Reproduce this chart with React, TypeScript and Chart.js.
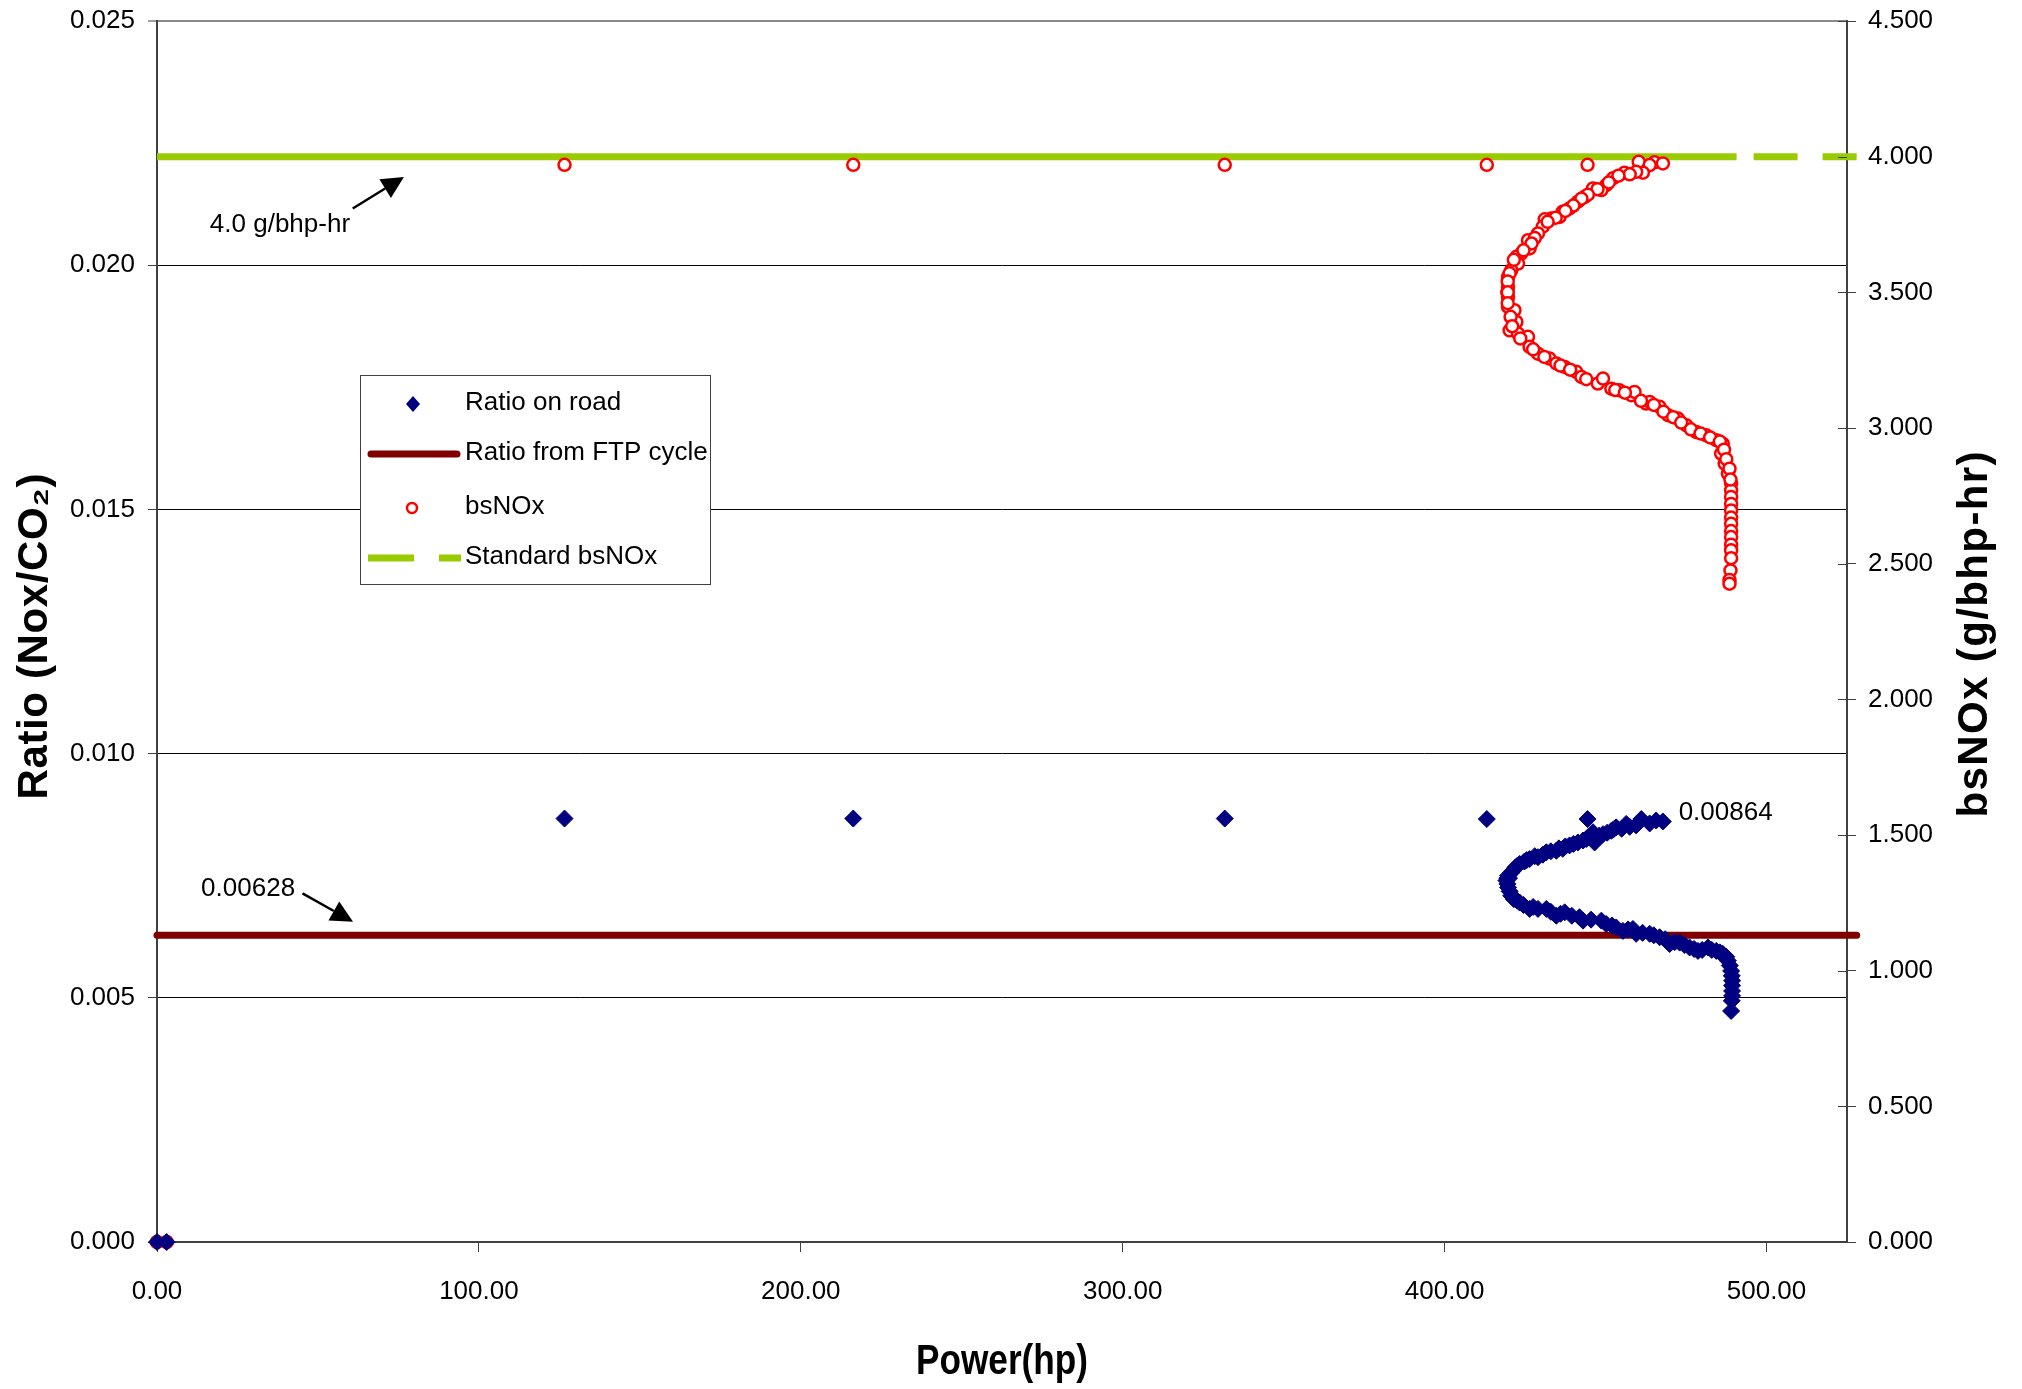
import React, { useEffect, useRef } from "react";
import { Chart, registerables } from "chart.js";

Chart.register(...registerables);

// ---------- data ----------
const xTicks = [0, 100, 200, 300, 400, 500];
const ratioTicks = [0, 0.005, 0.01, 0.015, 0.02, 0.025];
const bsTicks = [0, 0.5, 1, 1.5, 2, 2.5, 3, 3.5, 4, 4.5];

// Ratio on road (NOx/CO2) vs power
const roadPower = [
  0, 3, 126.6, 216.3, 331.7, 413.1, 444.4,
  467.8, 465.7, 461.1, 463.7, 459.5, 456.4, 453.3, 451.8, 449.2, 446.1, 446.6, 444.0,
  441.4, 438.8, 436.7, 434.7, 431.6, 429.0, 426.4, 424.8, 423.3, 422.0, 421.2, 420.0,
  419.7, 419.2, 419.5, 419.7, 420.2, 420.7, 423.3, 426.4, 429.0, 431.6, 434.7, 437.3,
  441.9, 443.0, 448.7, 450.2, 453.3, 455.4, 458.5, 459.5, 463.7, 466.8, 469.9, 473.0,
  476.1, 478.7, 481.8, 484.4, 486.4, 488.0, 488.6, 489.0, 489.2, 489.3, 489.3, 489.3,
  489.3, 489.2, 489.0,
  457.5, 455.0, 452.5, 450.5, 448.0, 445.0, 443.0, 440.0, 437.5, 435.5, 433.0, 430.5,
  428.0, 425.5, 422.5, 420.5, 419.5,
  421.5, 422.5, 424.5, 427.5, 433.0, 436.0, 439.5, 445.5, 452.0, 457.0, 461.5, 465.0,
  468.5, 471.5, 474.5, 477.5, 480.0, 483.0, 485.5, 487.5,
];
const roadRatio = [
  0, 0, 0.00867, 0.00867, 0.00867, 0.00866, 0.00866,
  0.00861, 0.00863, 0.00866, 0.00857, 0.00853, 0.00856, 0.00849, 0.00842, 0.00835, 0.00839, 0.00818, 0.00825,
  0.00818, 0.00812, 0.00805, 0.00801, 0.00798, 0.00788, 0.00784, 0.00779, 0.00774, 0.00767, 0.0076, 0.00745,
  0.0075, 0.0074, 0.00733, 0.00726, 0.00718, 0.00709, 0.00695, 0.00682, 0.00682, 0.00682, 0.00668, 0.00675,
  0.00665, 0.00658, 0.00658, 0.00651, 0.00644, 0.00637, 0.00641, 0.00631, 0.00631, 0.00624, 0.0061, 0.00613,
  0.00603, 0.00596, 0.00603, 0.00596, 0.0059, 0.00576, 0.00566, 0.00555, 0.00545, 0.00535, 0.00525, 0.00514,
  0.00504, 0.00494, 0.00473,
  0.0085, 0.00846, 0.00845, 0.00838, 0.00832, 0.00828, 0.00822, 0.00815, 0.0081, 0.00806, 0.008, 0.00793,
  0.0079, 0.00782, 0.0077, 0.00755, 0.00745,
  0.00702, 0.00699, 0.0069, 0.00686, 0.00676, 0.00672, 0.00668, 0.0066, 0.00648, 0.0064, 0.00633, 0.00628,
  0.0062, 0.00614, 0.00608, 0.006, 0.00598, 0.00598, 0.00593, 0.00584,
];

// bsNOx (g/bhp-hr) vs power
const bsPower = [
  0, 3, 126.6, 216.3, 331.7, 413.1, 444.4,
  460.3, 465.2, 467.8, 463.7, 461.6, 459.5, 455.9, 452.3, 450.2, 448.7, 446.1, 443.5,
  441.4, 438.8, 436.7, 435.7, 433.1, 431.1, 430.5, 429.0, 425.9, 426.4, 423.8, 422.3,
  422.8, 420.7, 419.7, 419.7, 419.5, 419.7, 419.7, 421.7, 422.3, 420.2, 422.8, 425.9,
  426.4, 429.0, 432.6, 434.7, 437.3, 440.9, 442.5, 447.6, 449.2, 451.8, 454.3, 458.0,
  459.0, 462.6, 463.7, 466.8, 469.4, 472.5, 475.1, 478.2, 481.3, 484.4, 486.4, 485.9,
  487.0, 488.0, 489.0, 489.0, 489.0, 489.0, 489.0, 489.0, 489.0, 489.0, 489.0, 489.0,
  489.0, 489.0, 488.8, 488.5, 488.5,
  457.5, 454.0, 451.0, 447.5, 444.5, 442.5, 440.0, 437.5, 434.5, 432.0, 428.0, 427.0,
  424.5, 421.5, 420.2, 419.6, 419.6, 419.6,
  420.5, 421.0, 423.5, 427.5, 431.0, 436.0, 439.0, 444.0, 453.0, 456.0, 461.0, 465.0,
  468.0, 471.0, 473.5, 476.5, 479.5, 482.5, 485.5, 486.8, 487.5, 488.5, 488.8,
];
const bsValue = [
  0, 0, 3.97, 3.97, 3.97, 3.97, 3.97,
  3.981, 3.979, 3.975, 3.969, 3.941, 3.944, 3.941, 3.92, 3.895, 3.877, 3.883, 3.852,
  3.834, 3.809, 3.797, 3.778, 3.772, 3.769, 3.742, 3.717, 3.692, 3.662, 3.643, 3.631,
  3.606, 3.582, 3.557, 3.52, 3.5, 3.483, 3.446, 3.434, 3.391, 3.36, 3.348, 3.336,
  3.299, 3.274, 3.256, 3.238, 3.225, 3.207, 3.188, 3.164, 3.182, 3.145, 3.139, 3.121,
  3.133, 3.09, 3.096, 3.078, 3.047, 3.035, 3.01, 2.985, 2.973, 2.955, 2.942, 2.906,
  2.869, 2.832, 2.795, 2.77, 2.746, 2.72, 2.696, 2.67, 2.647, 2.62, 2.598, 2.57,
  2.549, 2.52, 2.475, 2.44, 2.426,
  3.935, 3.93, 3.905, 3.88, 3.86, 3.845, 3.82, 3.8, 3.775, 3.76, 3.7, 3.68,
  3.655, 3.62, 3.57, 3.54, 3.5, 3.46,
  3.41, 3.375, 3.33, 3.29, 3.262, 3.23, 3.215, 3.18, 3.14, 3.13, 3.1, 3.085,
  3.06, 3.04, 3.02, 2.995, 2.98, 2.965, 2.95, 2.92, 2.885, 2.85, 2.81,
];

// Reference lines
const ftpPower = [0, 528];
const ftpRatio = [0.00628, 0.00628];
const stdPower = [0, 490.7, 528];
const stdBs = [4.0, 4.0, 4.0];

// Annotations (data coordinates)
const note40 = { text: "4.0 g/bhp-hr", x: 38.2, y: 3.75, tailX: 60.8, tailY: 3.809, tipX: 76.7, tipY: 3.925 };
const note628 = { text: "0.00628", x: 28.3, y: 0.007234, tailX: 45.2, tailY: 0.007137, tipX: 60.9, tipY: 0.006557 };
const note864 = { text: "0.00864", x: 472.7, y: 0.008791 };

const seriesNames = ["Ratio on road", "Ratio from FTP cycle", "bsNOx", "Standard bsNOx"];

const NAVY = "#000080";
const MAROON = "#800000";
const RED = "#FF0000";
const GREEN = "#99CC00";
const AXIS = "#404040";
const FAMILY = "'Liberation Sans', Arial, sans-serif";

function hasFont(name: string): boolean {
  const c = document.createElement("canvas").getContext("2d");
  if (!c) return false;
  const s = "Power(hp) bsNOx (g/bhp-hr) 0123";
  c.font = "40px monospace";
  const a = c.measureText(s).width;
  c.font = `40px "${name}", monospace`;
  const b = c.measureText(s).width;
  return Math.abs(a - b) > 0.5;
}

function drawArrow(ctx: CanvasRenderingContext2D, x1: number, y1: number, x2: number, y2: number) {
  const ang = Math.atan2(y2 - y1, x2 - x1);
  const headLen = 22;
  const halfW = 11;
  const bx = x2 - Math.cos(ang) * headLen;
  const by = y2 - Math.sin(ang) * headLen;
  ctx.save();
  ctx.strokeStyle = "#000";
  ctx.fillStyle = "#000";
  ctx.lineWidth = 2.5;
  ctx.beginPath();
  ctx.moveTo(x1, y1);
  ctx.lineTo(bx, by);
  ctx.stroke();
  ctx.beginPath();
  ctx.moveTo(x2, y2);
  ctx.lineTo(bx - Math.sin(ang) * halfW, by + Math.cos(ang) * halfW);
  ctx.lineTo(bx + Math.sin(ang) * halfW, by - Math.cos(ang) * halfW);
  ctx.closePath();
  ctx.fill();
  ctx.restore();
}

function drawTitle(
  ctx: CanvasRenderingContext2D,
  text: string,
  cx: number,
  cy: number,
  font: string,
  target: number,
  rotate: boolean
) {
  ctx.save();
  ctx.font = font;
  ctx.fillStyle = "#000";
  ctx.textAlign = "left";
  ctx.textBaseline = "middle";
  const w = ctx.measureText(text).width;
  ctx.translate(cx, cy);
  if (rotate) ctx.rotate(-Math.PI / 2);
  if (w > target) {
    ctx.scale(target / w, 1);
    ctx.fillText(text, -w / 2, 0);
  } else {
    const chars = Array.from(text);
    const extra = (target - w) / Math.max(1, chars.length - 1);
    let x = -target / 2;
    for (const ch of chars) {
      ctx.fillText(ch, x, 0);
      x += ctx.measureText(ch).width + extra;
    }
  }
  ctx.restore();
}

export default function App() {
  const ref = useRef<HTMLCanvasElement>(null);

  useEffect(() => {
    const canvas = ref.current;
    if (!canvas) return;
    const narrow = hasFont("Liberation Sans Narrow");
    const titleFont = narrow
      ? `bold 42px "Liberation Sans Narrow", "Liberation Sans", Arial, sans-serif`
      : `bold 42px "Liberation Sans", Arial, sans-serif`;

    const overlay = {
      id: "overlay",
      afterDatasetsDraw(chart: any) {
        const ctx: CanvasRenderingContext2D = chart.ctx;
        const xs = chart.scales.x;
        const yl = chart.scales.y;
        const yr = chart.scales.y1;
        const area = chart.chartArea;

        // inner half of right-axis tick marks
        ctx.save();
        ctx.strokeStyle = AXIS;
        ctx.lineWidth = 1;
        for (const v of bsTicks) {
          const py = Math.round(yr.getPixelForValue(v)) + 0.5;
          ctx.beginPath();
          ctx.moveTo(area.right - 9, py);
          ctx.lineTo(area.right, py);
          ctx.stroke();
        }
        ctx.restore();

        // annotations
        ctx.save();
        ctx.font = `26px ${FAMILY}`;
        ctx.fillStyle = "#000";
        ctx.textBaseline = "middle";
        ctx.textAlign = "center";
        ctx.fillText(note40.text, xs.getPixelForValue(note40.x), yr.getPixelForValue(note40.y));
        ctx.fillText(note628.text, xs.getPixelForValue(note628.x), yl.getPixelForValue(note628.y));
        ctx.textAlign = "left";
        ctx.fillText(note864.text, xs.getPixelForValue(note864.x), yl.getPixelForValue(note864.y));
        ctx.restore();
        drawArrow(
          ctx,
          xs.getPixelForValue(note40.tailX),
          yr.getPixelForValue(note40.tailY),
          xs.getPixelForValue(note40.tipX),
          yr.getPixelForValue(note40.tipY)
        );
        drawArrow(
          ctx,
          xs.getPixelForValue(note628.tailX),
          yl.getPixelForValue(note628.tailY),
          xs.getPixelForValue(note628.tipX),
          yl.getPixelForValue(note628.tipY)
        );

        // legend
        const L = 360, T = 375, W = 350, H = 209;
        ctx.save();
        ctx.fillStyle = "#fff";
        ctx.fillRect(L, T, W, H);
        ctx.strokeStyle = AXIS;
        ctx.lineWidth = 1;
        ctx.strokeRect(L + 0.5, T + 0.5, W, H);
        const rows = [404, 454, 508, 558];
        // diamond
        ctx.fillStyle = NAVY;
        ctx.beginPath();
        ctx.moveTo(413, rows[0] - 8);
        ctx.lineTo(420, rows[0]);
        ctx.lineTo(413, rows[0] + 8);
        ctx.lineTo(406, rows[0]);
        ctx.closePath();
        ctx.fill();
        // ftp line
        ctx.strokeStyle = MAROON;
        ctx.lineWidth = 7;
        ctx.lineCap = "round";
        ctx.beginPath();
        ctx.moveTo(371, rows[1]);
        ctx.lineTo(457, rows[1]);
        ctx.stroke();
        // circle
        ctx.lineCap = "butt";
        ctx.strokeStyle = RED;
        ctx.fillStyle = "#fff";
        ctx.lineWidth = 2.5;
        ctx.beginPath();
        ctx.arc(412, rows[2], 5, 0, Math.PI * 2);
        ctx.fill();
        ctx.stroke();
        // dashed green
        ctx.fillStyle = GREEN;
        ctx.fillRect(368, rows[3] - 3.5, 46, 7);
        ctx.fillRect(439, rows[3] - 3.5, 22, 7);
        // texts
        ctx.fillStyle = "#000";
        ctx.font = `26px ${FAMILY}`;
        ctx.textAlign = "left";
        ctx.textBaseline = "middle";
        seriesNames.forEach((n, i) => ctx.fillText(n, 465, rows[i] - 1));
        ctx.restore();
      },
      afterDraw(chart: any) {
        const ctx: CanvasRenderingContext2D = chart.ctx;
        const area = chart.chartArea;
        const cy = (area.top + area.bottom) / 2;
        drawTitle(ctx, "Ratio (Nox/CO\u2082)", 35, cy + 5, titleFont, 326, true);
        drawTitle(ctx, "bsNOx (g/bhp-hr)", 1975, cy + 3, titleFont, 366, true);
        drawTitle(ctx, "Power(hp)", (area.left + area.right) / 2, 1362, titleFont, 172, false);
      },
    };

    const tickFont = { family: FAMILY, size: 26 };

    const chart = new Chart(canvas, {
      type: "scatter",
      data: {
        datasets: [
          {
            type: "scatter",
            label: seriesNames[0],
            data: roadPower.map((x, i) => ({ x, y: roadRatio[i] })),
            yAxisID: "y",
            pointStyle: "rectRot",
            pointRadius: 8.5,
            backgroundColor: NAVY,
            borderColor: NAVY,
            borderWidth: 1,
            order: 0,
            clip: false,
          },
          {
            type: "line",
            label: seriesNames[1],
            data: ftpPower.map((x, i) => ({ x, y: ftpRatio[i] })),
            yAxisID: "y",
            borderColor: MAROON,
            borderWidth: 7,
            borderCapStyle: "round",
            pointRadius: 0,
            fill: false,
            order: 2,
            clip: false,
          },
          {
            type: "scatter",
            label: seriesNames[2],
            data: bsPower.map((x, i) => ({ x, y: bsValue[i] })),
            yAxisID: "y1",
            pointStyle: "circle",
            pointRadius: 6,
            borderWidth: 2.5,
            borderColor: RED,
            backgroundColor: "#FFFFFF",
            order: 0,
            clip: false,
          },
          {
            type: "line",
            label: seriesNames[3],
            data: stdPower.map((x, i) => ({ x, y: stdBs[i] })),
            yAxisID: "y1",
            borderColor: GREEN,
            borderWidth: 7,
            borderCapStyle: "butt",
            pointRadius: 0,
            fill: false,
            order: 2,
            clip: false,
            segment: {
              borderDash: (c: any) => (c.p1DataIndex === stdPower.length - 1 ? [44, 25] : undefined),
              borderDashOffset: (c: any) => (c.p1DataIndex === stdPower.length - 1 ? 52 : undefined),
            },
          } as any,
        ],
      },
      options: {
        responsive: false,
        devicePixelRatio: 1,
        animation: false,
        events: [],
        layout: { autoPadding: false, padding: { top: 21, left: 0, right: 0, bottom: 0 } },
        plugins: {
          legend: { display: false },
          tooltip: { enabled: false },
        },
        scales: {
          x: {
            type: "linear",
            position: "bottom",
            min: 0,
            max: 525,
            afterBuildTicks: (s: any) => {
              s.ticks = xTicks.map((v) => ({ value: v }));
            },
            afterFit: (s: any) => {
              s.height = 147;
              s.paddingLeft = 0;
              s.paddingRight = 0;
            },
            ticks: {
              font: tickFont,
              color: "#000",
              padding: 24,
              maxRotation: 0,
              autoSkip: false,
              callback: (v: any) => Number(v).toFixed(2),
            },
            grid: {
              drawOnChartArea: false,
              drawTicks: true,
              tickLength: 10,
              tickColor: AXIS,
              tickWidth: 1,
            },
            border: { display: true, color: AXIS, width: 2 },
          },
          y: {
            type: "linear",
            position: "left",
            min: 0,
            max: 0.025,
            afterBuildTicks: (s: any) => {
              s.ticks = ratioTicks.map((v) => ({ value: v }));
            },
            afterFit: (s: any) => {
              s.width = 157;
              s.paddingTop = 0;
              s.paddingBottom = 0;
            },
            ticks: {
              font: tickFont,
              color: "#000",
              padding: 13,
              callback: (v: any) => Number(v).toFixed(3),
            },
            grid: {
              color: (c: any) => (c.tick && c.tick.value > 0.0249 ? "#8a8a8a" : "#000"),
              lineWidth: (c: any) => (c.tick && c.tick.value > 0.0249 ? 2 : 1),
              drawTicks: true,
              tickLength: 9,
              tickColor: AXIS,
              tickWidth: 1,
            },
            border: { display: true, color: AXIS, width: 2 },
          },
          y1: {
            type: "linear",
            position: "right",
            min: 0,
            max: 4.5,
            afterBuildTicks: (s: any) => {
              s.ticks = bsTicks.map((v) => ({ value: v }));
            },
            afterFit: (s: any) => {
              s.width = 175;
              s.paddingTop = 0;
              s.paddingBottom = 0;
            },
            ticks: {
              font: tickFont,
              color: "#000",
              padding: 12,
              callback: (v: any) => Number(v).toFixed(3),
            },
            grid: {
              drawOnChartArea: false,
              drawTicks: true,
              tickLength: 9,
              tickColor: AXIS,
              tickWidth: 1,
            },
            border: { display: true, color: AXIS, width: 2 },
          },
        },
      },
      plugins: [overlay],
    } as any);

    return () => chart.destroy();
  }, []);

  return (
    <div style={{ position: "fixed", left: 0, top: 0, width: 2022, height: 1389, background: "#fff" }}>
      <canvas ref={ref} width={2022} height={1389} style={{ width: 2022, height: 1389, display: "block" }} />
    </div>
  );
}
